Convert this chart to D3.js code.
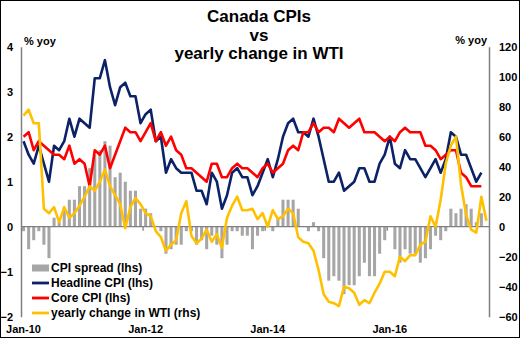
<!DOCTYPE html>
<html>
<head>
<meta charset="utf-8">
<script src="https://cdn.jsdelivr.net/npm/d3@7"></script>
<style>
  html, body { margin: 0; padding: 0; background: #fff; }
  svg { display: block; font-family: "Liberation Sans", Arial, sans-serif; font-weight: bold; }
</style>
</head>
<body>
<div id="container"></div>
<script>
"use strict";

// months Jan-10 .. Aug-17 (CPI data stops at Jul-17, WTI runs one month longer)
const months = d3.timeMonth.range(new Date(2010, 0, 1), new Date(2017, 8, 1));

const headlineCPI = [
  1.9, 1.6, 1.4, 1.8, 1.4, 1.0, 1.8, 1.7, 1.9, 2.4, 2.0, 2.4,
  2.3, 2.2, 3.3, 3.3, 3.7, 3.1, 2.7, 3.1, 3.2, 2.9, 2.9, 2.3,
  2.5, 2.6, 1.9, 2.0, 1.2, 1.5, 1.3, 1.2, 1.2, 1.2, 0.8, 0.8,
  0.5, 1.2, 1.0, 0.4, 0.7, 1.2, 1.3, 1.1, 1.1, 0.7, 0.9, 1.2,
  1.5, 1.1, 1.5, 2.0, 2.3, 2.4, 2.1, 2.1, 2.0, 2.4, 2.0, 1.5,
  1.0, 1.0, 1.2, 0.8, 0.9, 1.0, 1.3, 1.3, 1.0, 1.0, 1.4, 1.6,
  2.0, 1.4, 1.3, 1.7, 1.5, 1.5, 1.3, 1.1, 1.3, 1.5, 1.2, 1.5,
  2.1, 2.0, 1.6, 1.6, 1.3, 1.0, 1.2
];

const coreCPI = [
  2.0, 2.1, 1.7, 1.9, 1.8, 1.7, 1.6, 1.6, 1.5, 1.8, 1.4, 1.5,
  1.4, 0.9, 1.7, 1.6, 1.8, 1.3, 1.6, 1.9, 2.2, 2.1, 2.1, 1.9,
  2.1, 2.3, 1.9, 2.1, 1.8, 2.0, 1.7, 1.6, 1.3, 1.3, 1.2, 1.1,
  1.0, 1.4, 1.4, 1.1, 1.1, 1.3, 1.4, 1.3, 1.3, 1.2, 1.1, 1.3,
  1.4, 1.2, 1.3, 1.4, 1.7, 1.8, 1.7, 2.1, 2.1, 2.3, 2.1, 2.2,
  2.2, 2.1, 2.4, 2.3, 2.2, 2.3, 2.4, 2.1, 2.1, 2.1, 2.0, 1.9,
  2.0, 1.9, 2.1, 2.2, 2.1, 2.1, 2.1, 1.8, 1.8, 1.7, 1.5, 1.6,
  1.7, 1.7, 1.2, 1.1, 0.9, 0.9, 0.9
];

// headline minus core, as shown by the grey bars
const cpiSpread = [
  -0.1, -0.5, -0.3, -0.1, -0.4, -0.7, 0.2, 0.1, 0.4, 0.6, 0.6, 0.9,
  0.9, 1.3, 1.6, 1.7, 1.9, 1.8, 1.1, 1.2, 1.0, 0.8, 0.8, 0.4,
  0.4, 0.3, 0.0, -0.1, -0.6, -0.5, -0.4, -0.4, -0.1, -0.1, -0.4, -0.3,
  -0.5, -0.2, -0.4, -0.7, -0.4, -0.1, -0.1, -0.2, -0.2, -0.5, -0.2, -0.1,
  0.1, -0.1, 0.2, 0.6, 0.6, 0.6, 0.4, 0.0, -0.1, 0.1, -0.1, -0.7,
  -1.2, -1.1, -1.2, -1.5, -1.3, -1.3, -1.1, -0.8, -1.1, -1.1, -0.6, -0.3,
  0.0, -0.5, -0.8, -0.5, -0.6, -0.6, -0.8, -0.7, -0.5, -0.2, -0.3, -0.1,
  0.4, 0.3, 0.4, 0.5, 0.4, 0.1, 0.3
];

const wtiChange = [
  74, 78, 69, 69, 12, 9, 13, 3, 13, 6, 9, 14,
  20, 27, 24, 30, 38, 27, 21, 15, -1, 13, 19, 15,
  9, 7, -3, -7, -16, -12, -9, 9, 17, -6, -11, -8,
  -2, -10, -5, -14, 6, 14, 20, 11, 11, 12,
  5, 9, 0, 11, 5, 7, 12, 9, -7, -10, -11, -16,
  -29, -45, -50, -51, -53, -40, -41, -44, -52, -49, -51, -44,
  -38, -30, -30, -33, -20, -23, -19, -19, -12, -10, 7, 0,
  18, 42, 54, 60, 28, 8, -2, -4, 20, 4
];

const leftTicks = [-2, -1, 0, 1, 2, 3, 4];
const rightTicks = [-60, -40, -20, 0, 20, 40, 60, 80, 100, 120];
const xTickIndex = [0, 24, 48, 72];
const xTickLabels = ["Jan-10", "Jan-12", "Jan-14", "Jan-16"];
const titleLines = ["Canada CPIs", "vs", "yearly change in WTI"];

const legendItems = [
  { label: "CPI spread (lhs)", color: "#a6a6a6", bar: true },
  { label: "Headline CPI (lhs)", color: "#0c2267" },
  { label: "Core CPI (lhs)", color: "#ff0000" },
  { label: "yearly change in WTI (rhs)", color: "#ffc000" }
];

const width = 520;
const height = 338;
const plot = { left: 21, right: 489, top: 46.7, bottom: 316.7 };

const svg = d3.select("#container")
  .append("svg")
  .attr("width", width)
  .attr("height", height);

svg.append("rect")
  .attr("x", 0.5).attr("y", 0.5)
  .attr("width", width - 1).attr("height", height - 1)
  .attr("fill", "#fff")
  .attr("stroke", "#000");

const x = d3.scaleBand()
  .domain(d3.range(months.length))
  .range([plot.left, plot.right])
  .paddingInner(0.4)
  .paddingOuter(0.2);
const cx = (i) => x(i) + x.bandwidth() / 2;

const yL = d3.scaleLinear().domain([-2, 4]).range([plot.bottom, plot.top]);
const yR = d3.scaleLinear().domain([-60, 120]).range([plot.bottom, plot.top]);

// bars
svg.append("g")
  .selectAll("rect")
  .data(cpiSpread)
  .enter()
  .append("rect")
  .attr("x", (d, i) => x(i))
  .attr("width", x.bandwidth())
  .attr("y", (d) => yL(Math.max(0, d)))
  .attr("height", (d) => Math.abs(yL(d) - yL(0)))
  .attr("fill", "#a6a6a6");

// zero line + little category ticks
svg.append("line")
  .attr("x1", plot.left).attr("x2", plot.right)
  .attr("y1", yL(0)).attr("y2", yL(0))
  .attr("stroke", "#808080").attr("stroke-width", 1.3);

svg.selectAll("tickmarks")
  .data(xTickIndex.slice(1))
  .enter()
  .append("line")
  .attr("x1", (d) => (cx(d - 1) + cx(d)) / 2)
  .attr("x2", (d) => (cx(d - 1) + cx(d)) / 2)
  .attr("y1", yL(0)).attr("y2", yL(0) + 4)
  .attr("stroke", "#808080").attr("stroke-width", 1.3);

// axes
const leftAxis = svg.append("g")
  .attr("transform", `translate(${plot.left},0)`)
  .call(d3.axisLeft(yL).tickValues(leftTicks).tickFormat(d3.format("d")).tickSize(0).tickSizeOuter(0).tickPadding(8));

const rightAxis = svg.append("g")
  .attr("transform", `translate(${plot.right},0)`)
  .call(d3.axisRight(yR).tickValues(rightTicks).tickSize(0).tickSizeOuter(0).tickPadding(10));

const bottomAxis = svg.append("g")
  .attr("transform", `translate(0,${plot.bottom})`)
  .call(d3.axisBottom(x).tickValues(xTickIndex).tickFormat((d, i) => xTickLabels[i]).tickSize(0).tickPadding(8.5));
bottomAxis.select(".domain").remove();

[leftAxis, rightAxis].forEach((g) => {
  g.select(".domain").attr("stroke", "#808080").attr("stroke-width", 1.5);
});
[leftAxis, rightAxis, bottomAxis].forEach((g) => {
  g.selectAll("text")
    .attr("fill", "#000")
    .style("font-family", "'Liberation Sans', Arial, sans-serif")
    .style("font-weight", "bold")
    .style("font-size", "11px");
});

// lines
const lineL = d3.line().x((d, i) => cx(i)).y((d) => yL(d));
const lineR = d3.line().x((d, i) => cx(i)).y((d) => yR(d));

svg.append("path")
  .datum(headlineCPI)
  .attr("d", lineL)
  .attr("fill", "none")
  .attr("stroke", "#0c2267")
  .attr("stroke-width", 2.6)
  .attr("stroke-linejoin", "round");

svg.append("path")
  .datum(coreCPI)
  .attr("d", lineL)
  .attr("fill", "none")
  .attr("stroke", "#ff0000")
  .attr("stroke-width", 2.6)
  .attr("stroke-linejoin", "round");

svg.append("path")
  .datum(wtiChange)
  .attr("d", lineR)
  .attr("fill", "none")
  .attr("stroke", "#ffc000")
  .attr("stroke-width", 2.6)
  .attr("stroke-linejoin", "round");

// titles
svg.selectAll("titles")
  .data(titleLines)
  .enter()
  .append("text")
  .attr("x", 259)
  .attr("y", (d, i) => 22 + i * 18.5)
  .attr("text-anchor", "middle")
  .style("font-size", "17px")
  .text((d) => d);

svg.append("text").attr("x", 24).attr("y", 45).style("font-size", "11px").text("% yoy");
svg.append("text").attr("x", 487).attr("y", 44).attr("text-anchor", "end").style("font-size", "11px").text("% yoy");

// legend
const legend = svg.append("g").attr("transform", "translate(32,268)");
const rows = legend.selectAll("g")
  .data(legendItems)
  .enter()
  .append("g")
  .attr("transform", (d, i) => `translate(0,${i * 15})`);

rows.append("rect")
  .attr("x", 0)
  .attr("width", 17)
  .attr("y", (d) => d.bar ? -3.5 : -1.4)
  .attr("height", (d) => d.bar ? 7 : 2.8)
  .attr("fill", (d) => d.color);

rows.append("text")
  .attr("x", 19)
  .attr("y", 4.3)
  .style("font-size", "12px")
  .text((d) => d.label);
</script>
</body>
</html>
